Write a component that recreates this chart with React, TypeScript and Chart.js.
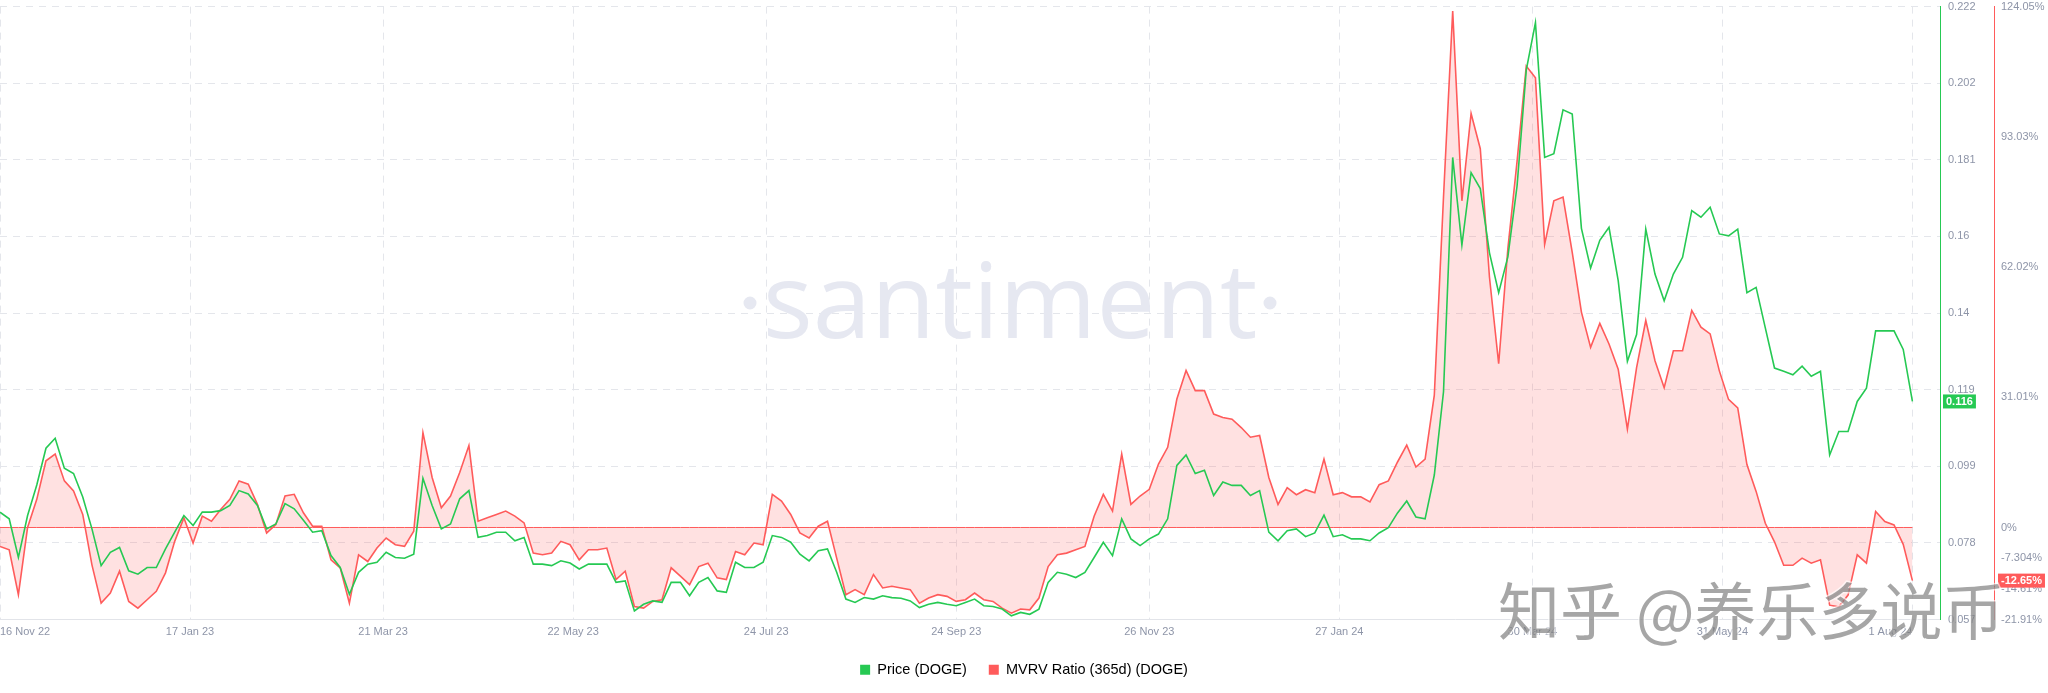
import React, { useEffect, useRef } from 'react';
import { Chart, registerables } from 'chart.js';

Chart.register(...registerables);

// ---- data (sampled every 3 days, starting 16 Nov 22) ----
const stepDays = 3;

const priceValues = [
  0.0862, 0.0844, 0.0740, 0.0853, 0.0935, 0.1034, 0.1061, 0.0980, 0.0966, 0.0903,
  0.0817, 0.0718, 0.0754, 0.0767, 0.0704, 0.0695, 0.0713, 0.0713, 0.0763, 0.0808,
  0.0853, 0.0826, 0.0862, 0.0862, 0.0866, 0.0880, 0.0920, 0.0911, 0.0880, 0.0817,
  0.0830, 0.0885, 0.0871, 0.0840, 0.0808, 0.0812, 0.0745, 0.0713, 0.0641, 0.0700,
  0.0722, 0.0727, 0.0754, 0.0740, 0.0738, 0.0749, 0.0953, 0.0880, 0.0817, 0.0830,
  0.0898, 0.0920, 0.0794, 0.0799, 0.0808, 0.0808, 0.0785, 0.0794, 0.0722, 0.0722,
  0.0718, 0.0731, 0.0725, 0.0709, 0.0722, 0.0722, 0.0722, 0.0673, 0.0677, 0.0596,
  0.0614, 0.0623, 0.0619, 0.0673, 0.0673, 0.0637, 0.0673, 0.0686, 0.0650, 0.0646,
  0.0727, 0.0713, 0.0713, 0.0727, 0.0799, 0.0794, 0.0781, 0.0749, 0.0731, 0.0758,
  0.0763, 0.0700, 0.0628, 0.0619, 0.0632, 0.0628, 0.0637, 0.0632, 0.0630, 0.0623,
  0.0605, 0.0614, 0.0619, 0.0614, 0.0610, 0.0619, 0.0628, 0.0610, 0.0608, 0.0601,
  0.0583, 0.0592, 0.0587, 0.0601, 0.0673, 0.0700, 0.0695, 0.0686, 0.0700, 0.0740,
  0.0781, 0.0745, 0.0844, 0.0790, 0.0772, 0.0790, 0.0803, 0.0844, 0.0988, 0.1016,
  0.0966, 0.0975, 0.0907, 0.0943, 0.0934, 0.0934, 0.0907, 0.0920, 0.0808, 0.0785,
  0.0812, 0.0817, 0.0796, 0.0806, 0.0854, 0.0796, 0.0801, 0.0790, 0.0790, 0.0785,
  0.0806, 0.0820, 0.0860, 0.0892, 0.0849, 0.0844, 0.0962, 0.1186, 0.1817, 0.1581,
  0.1776, 0.1733, 0.1560, 0.1453, 0.1549, 0.1740, 0.2052, 0.2180, 0.1817, 0.1827,
  0.1945, 0.1934, 0.1626, 0.1519, 0.1594, 0.1629, 0.1485, 0.1268, 0.1340, 0.1624,
  0.1503, 0.1431, 0.1503, 0.1548, 0.1674, 0.1656, 0.1683, 0.1611, 0.1606, 0.1624,
  0.1453, 0.1467, 0.1358, 0.1250, 0.1241, 0.1232, 0.1255, 0.1228, 0.1241, 0.1016,
  0.1079, 0.1079, 0.1160, 0.1196, 0.1350, 0.1350, 0.1350, 0.1300, 0.1160,
];

const mvrvValues = [
  -4.5, -5.3, -16.0, 0.0, 6.7, 15.9, 17.5, 11.1, 8.7, 3.1,
  -8.9, -18.0, -15.6, -10.4, -17.6, -19.2, -17.2, -15.2, -10.8, -3.3,
  2.3, -3.7, 2.7, 1.5, 4.3, 6.7, 11.1, 10.3, 5.5, -1.3,
  0.7, 7.5, 7.9, 3.5, 0.3, 0.3, -7.7, -9.6, -18.0, -6.5,
  -8.1, -4.9, -2.5, -4.1, -4.5, -0.9, 22.6, 11.9, 4.7, 7.5,
  13.1, 19.5, 1.5, 2.3, 3.1, 3.9, 2.7, 1.1, -6.1, -6.5,
  -6.1, -3.3, -4.1, -7.7, -5.3, -5.3, -4.9, -12.4, -10.4, -18.8,
  -19.2, -17.6, -17.2, -9.6, -11.6, -13.6, -9.3, -8.5, -12.0, -12.4,
  -5.7, -6.5, -3.7, -4.1, 7.9, 6.3, 3.1, -1.3, -2.5, 0.3,
  1.5, -7.3, -16.0, -14.8, -16.0, -11.2, -14.4, -14.0, -14.4, -14.8,
  -18.0, -16.8, -16.0, -16.4, -17.6, -17.2, -15.6, -17.2, -17.6, -19.2,
  -20.4, -19.4, -19.6, -16.8, -9.3, -6.5, -6.1, -5.3, -4.5, 2.7,
  7.9, 3.9, 17.5, 5.5, 7.5, 9.1, 15.1, 19.1, 30.6, 37.4,
  32.6, 32.6, 27.0, 26.2, 25.8, 23.8, 21.5, 21.9, 11.9, 5.5,
  9.5, 7.8, 9.0, 8.3, 16.3, 7.8, 8.3, 7.3, 7.3, 6.1,
  10.2, 11.1, 15.6, 19.6, 14.4, 16.3, 31.5, 78.7, 123.0, 77.8,
  98.6, 90.2, 59.6, 39.0, 66.4, 87.2, 109.9, 107.1, 67.4, 77.8,
  78.7, 65.5, 51.3, 42.9, 48.6, 43.7, 37.7, 23.4, 38.1, 49.3,
  39.7, 33.3, 42.1, 42.1, 51.7, 47.7, 46.1, 37.3, 30.5, 28.5,
  15.0, 8.6, 1.0, -3.4, -9.0, -9.0, -7.3, -8.5, -7.7, -18.5,
  -18.9, -16.1, -6.5, -8.5, 3.8, 1.4, 0.6, -4.0, -12.65,
];

const xTickDays = [0, 62, 125, 187, 250, 312, 375, 437, 500, 562, 624];
const xTickLabels = [
  '16 Nov 22', '17 Jan 23', '21 Mar 23', '22 May 23', '24 Jul 23', '24 Sep 23',
  '26 Nov 23', '27 Jan 24', '30 Mar 24', '31 May 24', '1 Aug 24',
];
const xMaxDay = 633;

const priceAxisMin = 0.0573;
const priceAxisMax = 0.2223;
const priceTickCount = 9;

const mvrvTicks = [124.05, 93.03, 62.02, 31.01, 0, -7.304, -14.61, -21.91];
const mvrvAxisMin = -21.91;
const mvrvAxisMax = 124.05;

const seriesNames = ['Price (DOGE)', 'MVRV Ratio (365d) (DOGE)'];
const watermarkText = 'santiment';
const zhihuText = '知乎 @养乐多说币';

// ---- styles ----
const GREEN = '#26C953';
const RED = '#FF5B5B';
const RED_FILL = 'rgba(255, 91, 91, 0.18)';
const GRID = '#e4e6eb';
const TICK = '#8e95a8';
const FONT = '"Liberation Sans", Arial, sans-serif';
const CLEAR = 'rgba(0,0,0,0)';

const priceTickValues = Array.from(
  { length: priceTickCount },
  (_, k) => priceAxisMin + ((priceAxisMax - priceAxisMin) * k) / (priceTickCount - 1)
);
const fmtPrice = (v: number) => String(Number(v.toFixed(3)));

const overlayPlugin = {
  id: 'overlays',
  beforeDatasetsDraw(chart: any) {
    const { ctx, chartArea } = chart;
    ctx.save();
    ctx.beginPath();
    ctx.rect(chartArea.left, chartArea.top, chartArea.right - chartArea.left, chartArea.bottom - chartArea.top);
    ctx.clip();
    ctx.fillStyle = '#e6e8f1';
    ctx.font = '400 105px "Open Sans", sans-serif';
    ctx.textAlign = 'center';
    ctx.textBaseline = 'alphabetic';
    ctx.fillText(watermarkText, 1010, 338);
    ctx.beginPath();
    ctx.arc(750, 303, 6.5, 0, Math.PI * 2);
    ctx.arc(1270, 303, 6.5, 0, Math.PI * 2);
    ctx.fill();
    ctx.restore();
  },
  afterDraw(chart: any) {
    const { ctx } = chart;
    const ys = chart.scales.y;
    const y1 = chart.scales.y1;
    const lastPrice = priceValues[priceValues.length - 1];
    const lastMvrv = mvrvValues[mvrvValues.length - 1];
    ctx.save();
    ctx.font = 'bold 11px ' + FONT;
    ctx.textBaseline = 'middle';
    ctx.textAlign = 'center';
    // price tag
    const py = ys.getPixelForValue(lastPrice);
    const pText = fmtPrice(lastPrice);
    const pw = ctx.measureText(pText).width + 6;
    ctx.fillStyle = GREEN;
    ctx.fillRect(ys.left + 3, py - 7, pw, 14);
    ctx.fillStyle = '#fff';
    ctx.fillText(pText, ys.left + 3 + pw / 2, py + 0.5);
    // mvrv tag
    const my = y1.getPixelForValue(lastMvrv);
    const mText = lastMvrv.toFixed(2) + '%';
    const mw = ctx.measureText(mText).width + 6;
    ctx.fillStyle = RED;
    ctx.fillRect(y1.left + 4, my - 7, mw, 14);
    ctx.fillStyle = '#fff';
    ctx.fillText(mText, y1.left + 4 + mw / 2, my + 0.5);
    // zhihu watermark
    ctx.font = '62px "Noto Sans CJK SC", sans-serif';
    ctx.textAlign = 'left';
    ctx.textBaseline = 'middle';
    ctx.lineWidth = 3;
    ctx.strokeStyle = 'rgba(255,255,255,0.6)';
    ctx.strokeText(zhihuText, 1498, 611);
    ctx.fillStyle = 'rgba(120,120,120,0.66)';
    ctx.fillText(zhihuText, 1498, 611);
    ctx.restore();
  },
};

export default function App() {
  const ref = useRef<HTMLCanvasElement | null>(null);

  useEffect(() => {
    if (!ref.current) return;
    const priceData = priceValues.map((v, i) => ({ x: i * stepDays, y: v }));
    const mvrvData = mvrvValues.map((v, i) => ({ x: i * stepDays, y: v }));
    const zeroData = mvrvValues.map((_, i) => ({ x: i * stepDays, y: 0 }));

    const chart = new Chart(ref.current, {
      type: 'line',
      data: {
        datasets: [
          {
            label: seriesNames[0],
            data: priceData,
            yAxisID: 'y',
            borderColor: GREEN,
            backgroundColor: GREEN,
            borderWidth: 1.6,
            pointRadius: 0,
            fill: false,
            tension: 0,
            order: 0,
          },
          {
            label: 'zero',
            data: zeroData,
            yAxisID: 'y1',
            borderColor: RED,
            borderWidth: 1,
            pointRadius: 0,
            fill: false,
            order: 1,
          },
          {
            label: seriesNames[1],
            data: mvrvData,
            yAxisID: 'y1',
            borderColor: RED,
            backgroundColor: RED_FILL,
            borderWidth: 1.6,
            pointRadius: 0,
            fill: 'origin',
            tension: 0,
            order: 2,
          },
        ],
      },
      options: {
        animation: false,
        responsive: false,
        devicePixelRatio: 1,
        events: [],
        layout: { padding: { top: 0, right: 0, left: 0, bottom: 6 } },
        plugins: {
          tooltip: { enabled: false },
          legend: {
            position: 'bottom',
            labels: {
              boxWidth: 10,
              boxHeight: 10,
              padding: 22,
              color: '#333',
              font: { family: FONT, size: 14.5 },
              generateLabels: () => [
                { text: seriesNames[0], fillStyle: GREEN, strokeStyle: GREEN, lineWidth: 0, hidden: false, datasetIndex: 0 },
                { text: seriesNames[1], fillStyle: RED, strokeStyle: RED, lineWidth: 0, hidden: false, datasetIndex: 2 },
              ],
            },
          },
        },
        scales: {
          x: {
            type: 'linear',
            min: 0,
            max: xMaxDay,
            afterBuildTicks: (s: any) => {
              s.ticks = xTickDays.map((v) => ({ value: v }));
            },
            afterFit: (s: any) => {
              s.height = 21;
            },
            ticks: {
              autoSkip: false,
              maxRotation: 0,
              align: 'inner',
              padding: 0,
              color: TICK,
              font: { family: FONT, size: 11 },
              callback: (v: any) => {
                const k = xTickDays.indexOf(Number(v));
                return k >= 0 ? xTickLabels[k] : '';
              },
            },
            grid: { color: GRID, lineWidth: 1, drawTicks: true, tickLength: 6, tickColor: CLEAR },
            border: { display: true, color: '#e2e4e9', dash: [7, 6] },
          },
          y: {
            type: 'linear',
            position: 'right',
            min: priceAxisMin,
            max: priceAxisMax,
            afterBuildTicks: (s: any) => {
              s.ticks = priceTickValues.map((v) => ({ value: v }));
            },
            afterFit: (s: any) => {
              s.width = 54;
            },
            ticks: {
              padding: 0,
              color: TICK,
              font: { family: FONT, size: 11 },
              callback: (v: any) => fmtPrice(Number(v)),
            },
            grid: { color: GRID, lineWidth: 1, drawTicks: true, tickLength: 8, tickColor: CLEAR },
            border: { display: true, color: GREEN, width: 1, dash: [7, 6] },
          },
          y1: {
            type: 'linear',
            position: 'right',
            min: mvrvAxisMin,
            max: mvrvAxisMax,
            afterBuildTicks: (s: any) => {
              s.ticks = mvrvTicks.map((v) => ({ value: v }));
            },
            afterFit: (s: any) => {
              s.width = 54;
            },
            ticks: {
              padding: 0,
              color: TICK,
              font: { family: FONT, size: 11 },
              callback: (v: any) => `${v}%`,
            },
            grid: { display: true, drawOnChartArea: false, color: CLEAR, drawTicks: true, tickLength: 7, tickColor: CLEAR },
            border: { display: true, color: RED, width: 1 },
          },
        },
      },
      plugins: [overlayPlugin],
    } as any);

    return () => chart.destroy();
  }, []);

  return (
    <div style={{ position: 'fixed', left: 0, top: 0, width: 2048, height: 693, background: '#fff' }}>
      <canvas ref={ref} width={2048} height={693} style={{ display: 'block' }} />
    </div>
  );
}
